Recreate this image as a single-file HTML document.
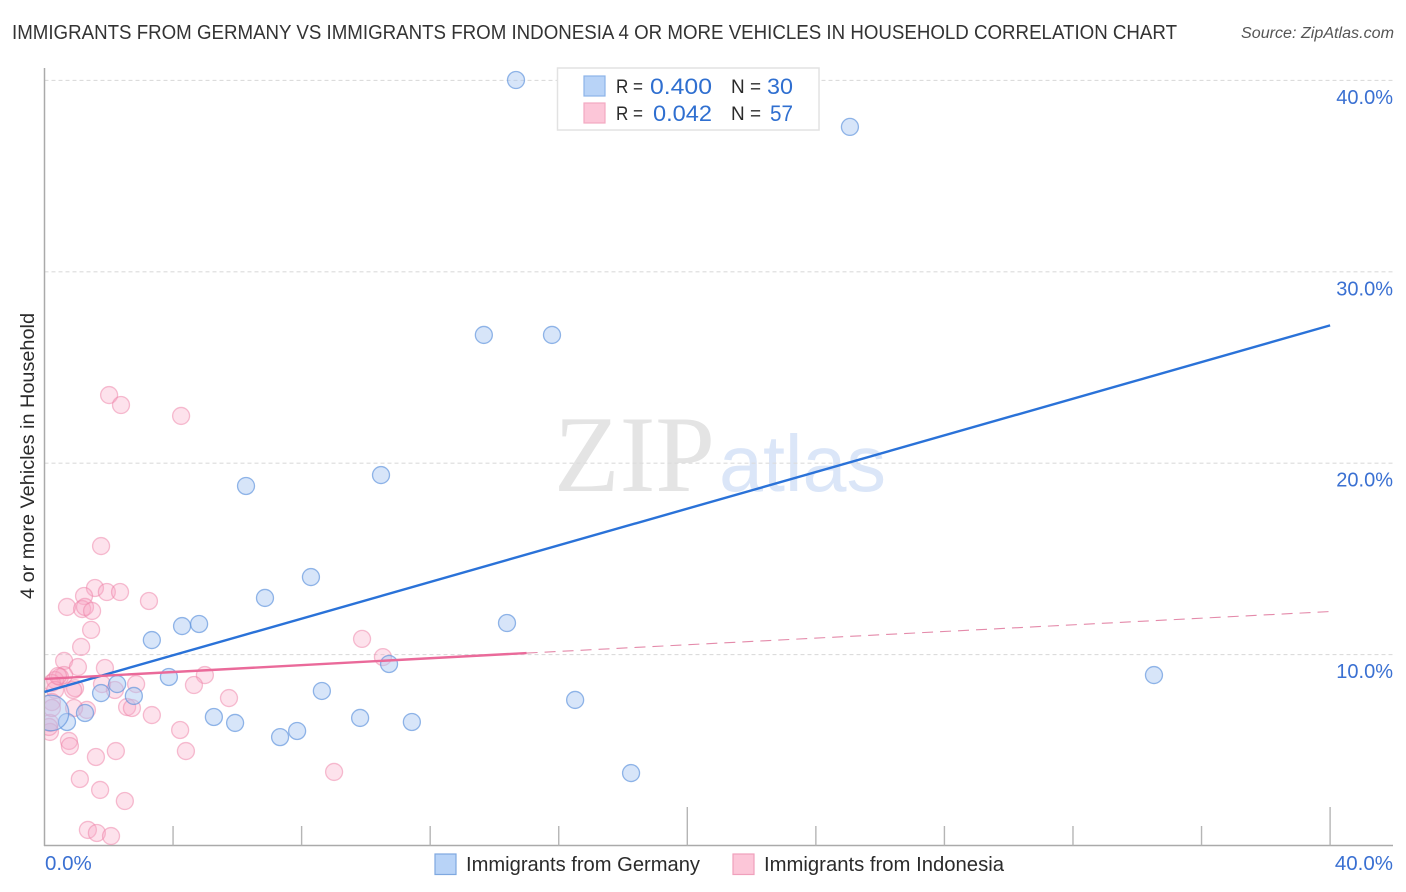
<!DOCTYPE html>
<html lang="en">
<head>
<meta charset="utf-8">
<title>Immigrants from Germany vs Immigrants from Indonesia Correlation Chart</title>
<style>
html,body{margin:0;padding:0;background:#fff;width:1406px;height:892px;overflow:hidden}
svg{display:block;font-family:"Liberation Sans",sans-serif}
</style>
</head>
<body>
<svg id="chart" xmlns="http://www.w3.org/2000/svg" width="1406" height="892" viewBox="0 0 1406 892">
  <defs><clipPath id="plot-clip"><rect x="45" y="60" width="1350" height="785"/></clipPath></defs>
  <text x="12" y="39" font-size="20" fill="#333" textLength="1165" lengthAdjust="spacingAndGlyphs">IMMIGRANTS FROM GERMANY VS IMMIGRANTS FROM INDONESIA 4 OR MORE VEHICLES IN HOUSEHOLD CORRELATION CHART</text>
  <text x="1241" y="38" font-size="15.5" font-style="italic" fill="#555" textLength="153" lengthAdjust="spacingAndGlyphs">Source: ZipAtlas.com</text>

  <g>
    <text x="554" y="491" font-family="'Liberation Serif',serif" font-size="109" fill="#e4e4e4" textLength="161" lengthAdjust="spacingAndGlyphs">ZIP</text>
    <text x="719" y="491" font-size="80" fill="#dbe6f8" textLength="167" lengthAdjust="spacingAndGlyphs">atlas</text>
  </g>

  <g id="grid"></g>
  <g id="axes"></g>
  <g id="pink-points" clip-path="url(#plot-clip)"></g>
  <g id="blue-points" clip-path="url(#plot-clip)"></g>
  <g id="trends"></g>
  <g id="tick-labels"></g>

  <text transform="translate(34,456) rotate(-90)" font-size="19.5" fill="#2b2b2b" text-anchor="middle" textLength="286" lengthAdjust="spacingAndGlyphs">4 or more Vehicles in Household</text>

  <g>
    <rect x="557.5" y="68" width="261.5" height="62" fill="#fff" stroke="#e2e2e2" stroke-width="1.5"/>
    <rect x="584" y="76" width="21" height="20" fill="#b8d3f7" stroke="#8db3e8" stroke-width="1.2"/>
    <rect x="584" y="103" width="21" height="20" fill="#fcc6d8" stroke="#f3a9c2" stroke-width="1.2"/>
    <text x="616" y="93" font-size="19.5" fill="#2b2b2b" textLength="27" lengthAdjust="spacingAndGlyphs">R =</text>
    <text x="650" y="94" font-size="22" fill="#2f6fd0" textLength="62" lengthAdjust="spacingAndGlyphs">0.400</text>
    <text x="731" y="93" font-size="19.5" fill="#2b2b2b" textLength="30" lengthAdjust="spacingAndGlyphs">N =</text>
    <text x="767" y="94" font-size="22" fill="#2f6fd0" textLength="26" lengthAdjust="spacingAndGlyphs">30</text>
    <text x="616" y="120" font-size="19.5" fill="#2b2b2b" textLength="27" lengthAdjust="spacingAndGlyphs">R =</text>
    <text x="653" y="121" font-size="22" fill="#2f6fd0" textLength="59" lengthAdjust="spacingAndGlyphs">0.042</text>
    <text x="731" y="120" font-size="19.5" fill="#2b2b2b" textLength="30" lengthAdjust="spacingAndGlyphs">N =</text>
    <text x="770" y="121" font-size="22" fill="#2f6fd0" textLength="23" lengthAdjust="spacingAndGlyphs">57</text>
  </g>

  <g>
    <rect x="435" y="854" width="21" height="20.5" fill="#b8d3f7" stroke="#7ea8e0" stroke-width="1.2"/>
    <text x="466" y="871" font-size="20" fill="#2b2b2b" textLength="234" lengthAdjust="spacingAndGlyphs">Immigrants from Germany</text>
    <rect x="733" y="854" width="21" height="20.5" fill="#fcc6d8" stroke="#f0a0bc" stroke-width="1.2"/>
    <text x="764" y="871" font-size="20" fill="#2b2b2b" textLength="240" lengthAdjust="spacingAndGlyphs">Immigrants from Indonesia</text>
  </g>
</svg>
<script>
const germanyX = [14.67,25.06,13.67,15.79,10.47,6.27,8.29,6.86,14.39,4.81,4.28,3.34,10.72,3.87,34.52,2.26,8.63,1.76,2.78,16.51,1.26,5.27,9.82,11.43,5.93,0.70,7.86,7.33,18.25,0.2];
const germanyY = [40.02,37.57,26.70,26.70,19.38,18.81,14.05,12.96,11.65,11.60,11.49,10.76,9.51,8.83,8.93,8.46,8.10,7.99,7.84,7.63,6.95,6.74,6.69,6.48,6.43,6.48,6.01,5.69,3.81,6.95];
const germanyWeight = [1,1,1,1,1,1,1,1,1,1,1,1,1,1,1,1,1,1,1,1,1,1,1,1,1,1,1,1,1,2.1];
const indonesiaX = [2.01,2.38,4.25,1.76,1.57,1.23,1.94,2.35,3.25,0.70,1.17,1.26,1.48,1.45,1.14,0.61,1.04,1.88,9.88,10.53,4.99,0.61,0.48,0.33,0.23,2.85,4.65,0.95,0.89,0.33,1.79,2.19,5.74,2.57,2.72,3.34,1.32,0.92,4.22,0.23,0.17,0.17,0.14,0.76,0.79,4.40,2.22,1.60,1.10,1.73,2.50,9.01,1.35,1.63,2.07,0.42,0.23];
const indonesiaY = [23.56,23.04,22.47,15.67,13.48,13.06,13.27,13.27,12.80,12.49,12.38,12.49,12.28,11.29,10.40,9.67,9.35,9.30,10.82,9.87,8.93,8.93,8.83,8.67,8.52,8.46,8.41,8.25,8.15,8.15,8.46,8.15,7.73,7.26,7.21,6.84,7.11,7.21,6.06,7.52,6.43,5.96,6.22,5.49,5.22,4.96,4.96,4.65,3.50,2.93,2.35,3.87,0.84,0.68,0.52,8.88,7.21];
const germanyTrendX = [0,40];
const germanyTrendY = [8.05,27.2];
const indonesiaSolidX = [0,15];
const indonesiaSolidY = [8.73,10.08];
const indonesiaDashX = [15,40];
const indonesiaDashY = [10.08,12.25];
const yTickValues = [10,20,30,40];
const yTickLabels = ["10.0%","20.0%","30.0%","40.0%"];
const xTickValues = [0,4,8,12,16,20,24,28,32,36,40];
const xEndValues = [0,40];
const xEndLabels = ["0.0%","40.0%"];

const NS = "http://www.w3.org/2000/svg";
function sx(v){ return 44.5 + v * 32.14; }
function sy(v){ return 846 - v * 19.14; }
function make(tag, attrs, parent){
  const el = document.createElementNS(NS, tag);
  for (const k in attrs) el.setAttribute(k, attrs[k]);
  parent.appendChild(el);
  return el;
}
const grid = document.getElementById("grid");
const axes = document.getElementById("axes");
const labels = document.getElementById("tick-labels");
const pinkG = document.getElementById("pink-points");
const blueG = document.getElementById("blue-points");
const trends = document.getElementById("trends");

yTickValues.forEach(function(v, i){
  const line = make("line", {x1:44.5, x2:1393, y1:sy(v), y2:sy(v), stroke:"#dcdcdc", "stroke-width":1.1, "stroke-dasharray":"4 3"}, grid);
  
  
  const t = make("text", {x:1393, y:sy(v)+23.5, "font-size":20, fill:"#3a70d2", "text-anchor":"end"}, labels);
  t.textContent = yTickLabels[i];
  
  
});

const yAxis = make("line", {x1:44.5, x2:44.5, y1:68, y2:846, stroke:"#aaa", "stroke-width":1.5}, axes);


const xAxis = make("line", {x1:44, x2:1393, y1:845.5, y2:845.5, stroke:"#aaa", "stroke-width":1.5}, axes);


xTickValues.forEach(function(v){
  const tall = (v === 20 || v === 40);
  if (v === 0) return;
  const tick = make("line", {x1:sx(v), x2:sx(v), y1:tall ? 807 : 826, y2:845.5, stroke:"#b5b5b5", "stroke-width":1.4}, axes);
  
  
});
xEndValues.forEach(function(v, i){
  const t = make("text", {x:i === 0 ? sx(v) + 0.5 : 1393, y:870, "font-size":20.5, fill:"#3a70d2", "text-anchor":i === 0 ? "start" : "end"}, labels);
  t.textContent = xEndLabels[i];
  
  
});

indonesiaX.forEach(function(v, i){
  const c = make("circle", {cx:sx(v), cy:sy(indonesiaY[i]), r:8.5, fill:"#f9a8c4", "fill-opacity":0.33, stroke:"#ee7fa5", "stroke-opacity":0.5, "stroke-width":1.3}, pinkG);
  
  
});
germanyX.forEach(function(v, i){
  const c = make("circle", {cx:sx(v), cy:sy(germanyY[i]), r:8.5 * germanyWeight[i], fill:"#a9c8f3", "fill-opacity":0.47, stroke:"#5b90dc", "stroke-opacity":0.65, "stroke-width":1.3}, blueG);
  
  
});

const blueLine = make("line", {x1:sx(germanyTrendX[0]), y1:sy(germanyTrendY[0]), x2:sx(germanyTrendX[1]), y2:sy(germanyTrendY[1]), stroke:"#2a72d8", "stroke-width":2.4}, trends);


const pinkLine = make("line", {x1:sx(indonesiaSolidX[0]), y1:sy(indonesiaSolidY[0]), x2:sx(indonesiaSolidX[1]), y2:sy(indonesiaSolidY[1]), stroke:"#ea6a9a", "stroke-width":2.4}, trends);


const pinkDash = make("line", {x1:sx(indonesiaDashX[0]), y1:sy(indonesiaDashY[0]), x2:sx(indonesiaDashX[1]), y2:sy(indonesiaDashY[1]), stroke:"#e48aaa", "stroke-width":1.1, "stroke-dasharray":"11 7"}, trends);


</script>
</body>
</html>
